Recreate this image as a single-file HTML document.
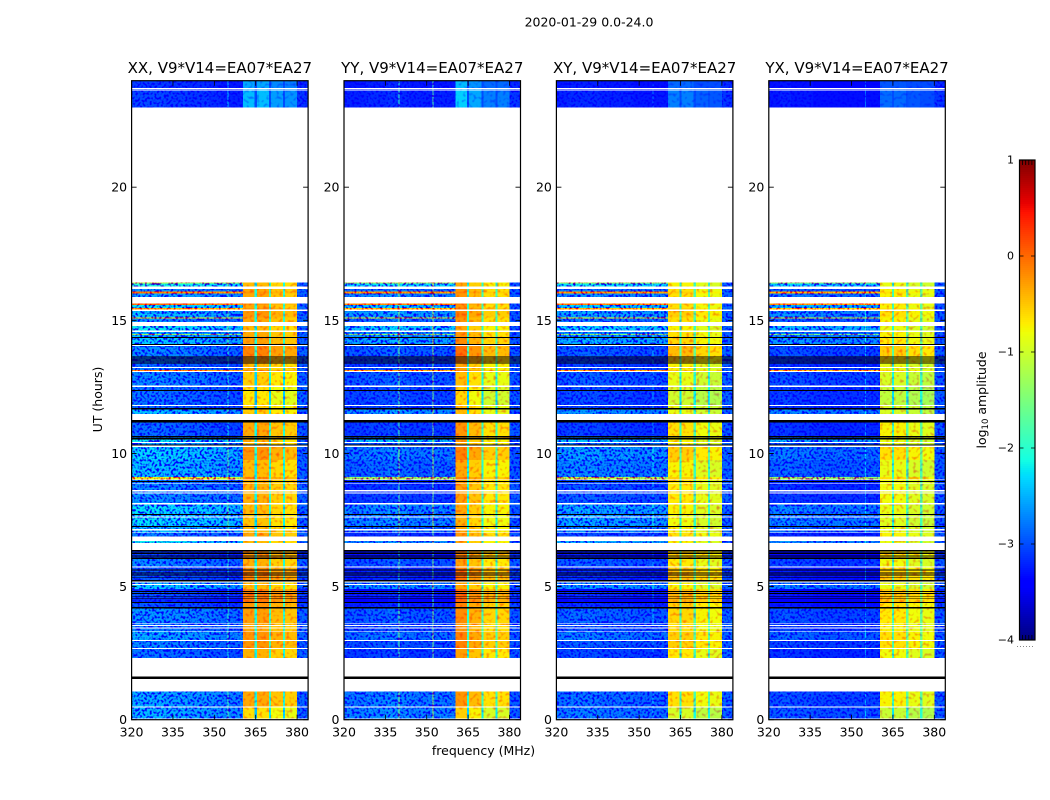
<!DOCTYPE html>
<html lang="en">
<head>
<meta charset="utf-8">
<title>2020-01-29 0.0-24.0</title>
<style>
html,body{margin:0;padding:0;background:#fff;width:1050px;height:800px;overflow:hidden}
svg{display:block}
text{font-family:"DejaVu Sans","Liberation Sans",sans-serif;fill:#000}
</style>
</head>
<body>
<svg id="figure" xmlns="http://www.w3.org/2000/svg" width="1050" height="800" viewBox="0 0 1050 800">
  <defs>
    <filter id="speckle" filterUnits="userSpaceOnUse" x="0" y="0" width="1050" height="800" color-interpolation-filters="sRGB">
      <feTurbulence type="fractalNoise" baseFrequency="0.42" numOctaves="1" seed="7" result="noise"/>
      <feColorMatrix in="noise" type="matrix" values="0 0 0 0 1  5 0 0 0 -1.7  0 0 0 0 1  0 0 0 0 1" result="tint"/>
      <feBlend in="SourceGraphic" in2="tint" mode="multiply" result="mixed"/>
      <feComposite in="mixed" in2="SourceAlpha" operator="in"/>
    </filter>
    <filter id="speckle-light" filterUnits="userSpaceOnUse" x="0" y="0" width="1050" height="800" color-interpolation-filters="sRGB">
      <feTurbulence type="fractalNoise" baseFrequency="0.3" numOctaves="1" seed="11" result="noise"/>
      <feColorMatrix in="noise" type="matrix" values="0 0 0 0 1  1.5 0 0 0 0.27  0 0 0 0 1  0 0 0 0 1" result="tint"/>
      <feBlend in="SourceGraphic" in2="tint" mode="multiply" result="mixed"/>
      <feComposite in="mixed" in2="SourceAlpha" operator="in"/>
    </filter>
  </defs>
  <text x="589" y="26.5" font-size="12.5" text-anchor="middle">2020-01-29 0.0-24.0</text>
  <text x="102" y="399.5" font-size="12.5" text-anchor="middle" transform="rotate(-90 102 399.5)">UT (hours)</text>
  <text x="483.5" y="755" font-size="12.5" text-anchor="middle">frequency (MHz)</text>
  <text x="986" y="400" font-size="12.5" text-anchor="middle" transform="rotate(-90 986 400)">log<tspan font-size="8.5" dy="2">10</tspan><tspan dy="-2"> amplitude</tspan></text>
  <g id="panels"></g>
  <g id="colorbar"></g>
</svg>
<script>
// ---- chart data ----
const panelTitles = ["XX, V9*V14=EA07*EA27", "YY, V9*V14=EA07*EA27", "XY, V9*V14=EA07*EA27", "YX, V9*V14=EA07*EA27"];
const freqTicks = [320, 335, 350, 365, 380];
const hourTicks = [0, 5, 10, 15, 20];
const colorbarTicks = [-4, -3, -2, -1, 0, 1];

// Frequency channel edges in MHz (22 groups of channels)
const freqEdges = [320, 324, 328, 332, 336, 339.8, 340.2, 344, 348, 352, 352.5, 354.8, 355.2, 358, 360.4, 364.6, 365.4, 369.8, 370.6, 374.9, 375.7, 380, 384];
// First and last channel group of the strong 360-380 MHz band
const strongBandFirst = 14;
const strongBandLast = 20;

// Upper edge (UT hours) of each time band, bottom to top
const bandTopHours = [
  0.04, 0.45, 0.49, 1.05, 1.52, 1.615, 2.31, 2.65, 2.69, 2.96,
  3.0, 3.305, 3.34, 3.42, 3.455, 3.51, 3.55, 3.605, 3.64, 4.17,
  4.225, 4.39, 4.43, 4.545, 4.58, 4.62, 4.655, 4.72, 4.76, 4.79,
  4.825, 4.9, 5.05, 5.09, 5.145, 5.2, 5.24, 5.315, 5.35, 5.41,
  5.445, 5.495, 5.53, 5.595, 5.635, 5.71, 5.745, 6.035, 6.07, 6.1,
  6.135, 6.165, 6.195, 6.225, 6.255, 6.285, 6.315, 6.345, 6.38, 6.63,
  6.705, 6.89, 7.005, 7.04, 7.115, 7.155, 7.23, 7.27, 7.585, 7.625,
  7.68, 7.72, 8.09, 8.13, 8.49, 8.525, 8.58, 8.62, 8.845, 8.88,
  8.92, 8.96, 8.995, 9.03, 9.11, 9.745, 10.235, 10.29, 10.33, 10.385,
  10.425, 10.515, 10.59, 10.62, 10.65, 11.155, 11.25, 11.475, 11.65, 11.7,
  11.775, 11.815, 12.34, 12.375, 12.505, 12.545, 13.05, 13.095, 13.14, 13.215,
  13.25, 13.37, 13.42, 13.455, 13.495, 13.53, 13.57, 13.605, 13.645, 14.035,
  14.065, 14.105, 14.33, 14.375, 14.45, 14.49, 14.57, 14.61, 14.79, 14.94,
  15.06, 15.1, 15.355, 15.405, 15.465, 15.57, 15.625, 15.88, 16, 16.075,
  16.17, 16.265, 16.375, 16.42, 22.985, 23.64, 23.665, 23.69, 23.72, 24
];
// log10 amplitude outside the strong band. null = no data (white), -9 = zero amplitude (black)
const bandBackground = [
  null, -2.55, null, -2.6, null, -9, null, -2.85, null, -2.75,
  null, -2.6, null, -2.8, null, -2.8, null, -2.8, null, -2.7,
  -9, -3, -9, -3.2, -9, -3.1, -9, -3, -9, -3,
  -9, -3.2, -2.45, null, -2.6, null, -9, -3, -9, -3,
  -9, -3, -9, -3, -9, -3, null, -2.75, -9, -3.1,
  -9, -3.1, -9, -3.1, -9, -3.1, -9, -3.1, -9, null,
  -2.3, null, -2.8, null, -2.5, null, -2.5, -9, -2.35, null,
  -2.35, -9, -2.35, null, -2.7, null, -2.7, null, -2.75, null,
  -2.75, -9, -2.75, null, -1, -2.5, -2.4, null, -9, -2.6,
  null, -2.3, -9, -2.6, -9, -2.9, -9, null, -2.5, -9,
  -2.9, null, -2.85, -9, -2.85, null, -2.75, null, -0.35, -2.8,
  null, -2.9, -9, -2.9, -9, -2.9, -9, -2.9, -9, -2.75,
  null, -9, -2.45, -9, -2.5, -1.4, -2.55, null, -2.3, null,
  -2.7, -0.8, -2.5, null, -0.5, -2.3, -0.2, null, -2.6, -0.3,
  -2.7, null, -2.2, -1.2, null, -3.1, null, -3.1, null, -3.15
];
// log10 amplitude inside the strong 360-380 MHz band (same band order)
const bandStrong = [
  null, -0.7, null, -0.4, null, -9, null, -0.45, null, -0.3,
  null, -0.3, null, -0.4, null, -0.4, null, -0.4, null, -0.35,
  -9, -0.3, -9, -0.15, -9, -0.15, -9, -0.15, -9, -0.15,
  -9, -0.2, -0.5, null, -0.5, null, -9, -0.2, -9, -0.2,
  -9, -0.2, -9, -0.2, -9, -0.3, null, -0.45, -9, -0.3,
  -9, -0.3, -9, -0.3, -9, -0.3, -9, -0.3, -9, null,
  -0.5, null, -0.4, null, -0.5, null, -0.5, -9, -0.55, null,
  -0.55, -9, -0.5, null, -0.45, null, -0.45, null, -0.45, null,
  -0.45, -9, -0.45, null, -0.3, -0.5, -0.3, null, -9, -0.5,
  null, -0.5, -9, -0.4, -9, -0.4, -9, null, -0.6, -9,
  -0.6, null, -0.75, -9, -0.7, null, -0.6, null, -0.3, -0.5,
  null, -0.5, -9, -0.3, -9, -0.3, -9, -0.3, -9, -0.2,
  null, -9, -0.35, -9, -0.4, -0.4, -0.4, null, -0.5, null,
  -0.4, -0.4, -0.3, null, -0.3, -0.4, -0.3, null, -0.4, -0.3,
  -0.4, null, -0.5, -0.5, null, -2.5, null, -2.5, null, -2.6
];
// log10 amplitude above 380 MHz, per panel
const edgeLevelXX = -2.85;
const edgeLevelYY = -2.9;
const edgeLevelXY = -2.85;
const edgeLevelYX = -2.9;
const panelEdgeLevels = [edgeLevelXX, edgeLevelYY, edgeLevelXY, edgeLevelYX];
// Weakest level seen inside the narrow gaps of the strong band
const gapFloor = -3;

// Per-panel offset (log10) for each frequency channel group
const profileXX = [0.1, 0.1, 0.1, 0.05, 0.05, 0.05, 0, 0, -0.05, -0.05, -0.1, 0.7, -0.1, -0.1, 0.05, -1.7, 0.05, -1.5, -0.1, -1.6, -0.15, 0];
const profileYY = [-0.1, -0.1, -0.05, -0.05, 0, 1.1, -0.05, -0.1, -0.1, 1.3, -0.1, -0.05, -0.1, -0.1, 0.15, -1.6, -0.05, -1.5, -0.25, -1.5, -0.25, 0];
const profileXY = [-0.1, -0.05, -0.05, -0.05, -0.1, -0.1, -0.1, -0.1, -0.15, -0.15, -0.15, 0.3, -0.15, -0.15, -0.25, -1.5, -0.25, -1.4, -0.4, -1.4, -0.45, 0];
const profileYX = [-0.15, -0.1, -0.15, -0.15, -0.2, -0.2, -0.2, -0.2, -0.2, -0.2, -0.2, 0.3, -0.2, -0.2, -0.35, -1.5, -0.35, -1.3, -0.45, -1.3, -0.5, 0];
const panelProfiles = [profileXX, profileYY, profileXY, profileYX];

// Coarse observing epochs (upper edge in hours) and per-panel background shift in each epoch
const epochTopHours = [2.4, 6.5, 10.5, 14.1, 17, 24];
const epochShiftXX = [0, 0, 0, 0, 0, 0];
const epochShiftYY = [-0.05, -0.1, -0.25, -0.05, 0, 0];
const epochShiftXY = [-0.1, -0.05, -0.1, -0.05, 0.05, 0];
const epochShiftYX = [-0.2, -0.1, -0.2, -0.05, 0, 0];
const panelEpochShifts = [epochShiftXX, epochShiftYY, epochShiftXY, epochShiftYX];

// ---- layout and axis functions ----
const SVG_NS = "http://www.w3.org/2000/svg";
const axesTop = 80.7, axesBottom = 719.7, axesWidth = 176.5;
const axesLeftStart = 131.6, axesStep = 212.4;
const barLeft = 1019.5, barRight = 1035, barTop = 160, barBottom = 640;
const tickLength = 5;

function axesLeft(i) { return axesLeftStart + axesStep * i; }
function xScale(mhz, i) { return axesLeft(i) + (mhz - 320) / 64 * axesWidth; }
function yScale(hour) { return axesBottom - hour / 24 * (axesBottom - axesTop); }
function barScale(v) { return barBottom - (v + 4) / 5 * (barBottom - barTop); }

function ramp(t, pts) {
  for (let k = 1; k < pts.length; k++) {
    if (t <= pts[k][0]) {
      const a = pts[k - 1], b = pts[k];
      return a[1] + (b[1] - a[1]) * (t - a[0]) / (b[0] - a[0]);
    }
  }
  return pts[pts.length - 1][1];
}
function jet(v) {
  const t = Math.min(1, Math.max(0, (v + 4) / 5));
  const r = ramp(t, [[0, 0], [0.35, 0], [0.66, 1], [0.89, 1], [1, 0.5]]);
  const g = ramp(t, [[0, 0], [0.125, 0], [0.375, 1], [0.64, 1], [0.91, 0], [1, 0]]);
  const b = ramp(t, [[0, 0.5], [0.11, 1], [0.34, 1], [0.65, 0], [1, 0]]);
  return "rgb(" + Math.round(r * 255) + "," + Math.round(g * 255) + "," + Math.round(b * 255) + ")";
}
function make(parent, tag, attrs, content) {
  const el = document.createElementNS(SVG_NS, tag);
  for (const k in attrs) el.setAttribute(k, attrs[k]);
  if (content !== undefined) el.textContent = content;
  parent.appendChild(el);
  return el;
}
function label(v) { return v < 0 ? "\u2212" + Math.abs(v) : String(v); }
function epochShift(p, hour) {
  for (let e = 0; e < epochTopHours.length; e++) {
    if (hour <= epochTopHours[e]) return panelEpochShifts[p][e];
  }
  return 0;
}

// ---- panels ----
const panelsRoot = document.getElementById("panels");
panelTitles.forEach(function (title, p) {
  const panelKey = title.slice(0, 2).toLowerCase();
  const left = axesLeft(p);
  const panel = make(panelsRoot, "g", {});
  
  

  const titleEl = make(panel, "text", { x: left + axesWidth / 2, y: 73, "font-size": 15, "text-anchor": "middle" }, title);
  
  

  const cells = make(panel, "g", { filter: "url(#speckle)", "shape-rendering": "crispEdges" });
  
  
  const strongCells = make(panel, "g", { filter: "url(#speckle-light)", "shape-rendering": "crispEdges" });
  
  
  const flagged = make(panel, "g", { "shape-rendering": "crispEdges" });
  
  

  const profile = panelProfiles[p];
  bandTopHours.forEach(function (topHour, b) {
    const lowHour = b === 0 ? 0 : bandTopHours[b - 1];
    const yTop = yScale(topHour), yLow = yScale(lowHour);
    const bg = bandBackground[b], strong = bandStrong[b];
    if (bg === null) return;
    if (bg === -9) {
      const row = make(flagged, "rect", { x: left, y: yTop, width: axesWidth, height: yLow - yTop, fill: "#000" });
      
      
      return;
    }
    const shift = epochShift(p, topHour);
    for (let c = 0; c < freqEdges.length - 1; c++) {
      const isStrong = c >= strongBandFirst && c <= strongBandLast;
      let value;
      if (isStrong) value = Math.max(strong + profile[c], gapFloor);
      else if (c > strongBandLast) value = Math.min(bg, panelEdgeLevels[p]) + profile[c];
      else value = bg + profile[c] + shift;
      const x0 = xScale(freqEdges[c], p), x1 = xScale(freqEdges[c + 1], p);
      const cell = make(isStrong ? strongCells : cells, "rect", { x: x0, y: yTop, width: x1 - x0, height: yLow - yTop, fill: jet(value) });
      
      
    }
  });

  const frame = make(panel, "rect", { x: left, y: axesTop, width: axesWidth, height: axesBottom - axesTop, fill: "none", stroke: "#000", "stroke-width": 1.2 });
  
  

  freqTicks.forEach(function (f) {
    const x = xScale(f, p);
    const tick = make(panel, "path", { d: "M" + x + " " + axesBottom + "v" + (-tickLength) + "M" + x + " " + axesTop + "v" + tickLength, stroke: "#000", "stroke-width": 0.8, fill: "none" });
    
    
    const text = make(panel, "text", { x: x, y: 736.5, "font-size": 12.5, "text-anchor": "middle" }, String(f));
    
    
  });
  hourTicks.forEach(function (h) {
    const y = yScale(h);
    const tick = make(panel, "path", { d: "M" + left + " " + y + "h" + tickLength + "M" + (left + axesWidth) + " " + y + "h" + (-tickLength), stroke: "#000", "stroke-width": 0.8, fill: "none" });
    
    
    const text = make(panel, "text", { x: left - 4.5, y: y + 4.5, "font-size": 12.5, "text-anchor": "end" }, String(h));
    
    
  });
});

// ---- colorbar ----
const barRoot = document.getElementById("colorbar");
const barSteps = 240;
const barFill = make(barRoot, "g", { "shape-rendering": "crispEdges" });


for (let i = 0; i < barSteps; i++) {
  const lo = colorbarTicks[0] + (colorbarTicks[colorbarTicks.length - 1] - colorbarTicks[0]) * i / barSteps;
  const hi = colorbarTicks[0] + (colorbarTicks[colorbarTicks.length - 1] - colorbarTicks[0]) * (i + 1) / barSteps;
  const seg = make(barFill, "rect", { x: barLeft, y: barScale(hi), width: barRight - barLeft, height: barScale(lo) - barScale(hi), fill: jet((lo + hi) / 2) });
  
  
}
const barFrame = make(barRoot, "rect", { x: barLeft, y: barTop, width: barRight - barLeft, height: barBottom - barTop, fill: "none", stroke: "#000", "stroke-width": 1.2 });


colorbarTicks.forEach(function (v) {
  const y = barScale(v);
  const tick = make(barRoot, "path", { d: "M" + barLeft + " " + y + "h4M" + barRight + " " + y + "h-4", stroke: "#000", "stroke-width": 0.8, fill: "none" });
  
  
  const text = make(barRoot, "text", { x: 1014, y: y + 3.5, "font-size": 11, "text-anchor": "end" }, label(v));
  
  
});
for (let i = 1; i < 5; i++) {
  const x = barLeft + (barRight - barLeft) * i / 5;
  const comb = make(barRoot, "path", { d: "M" + x + " " + barTop + "v5M" + x + " " + barBottom + "v-5", stroke: "#000", "stroke-width": 0.8, fill: "none" });
  
  
}
const dots = make(barRoot, "path", { d: "M1017 646.5H1035", stroke: "#888", "stroke-width": 1, "stroke-dasharray": "1 2", fill: "none" });


</script>
</body>
</html>
